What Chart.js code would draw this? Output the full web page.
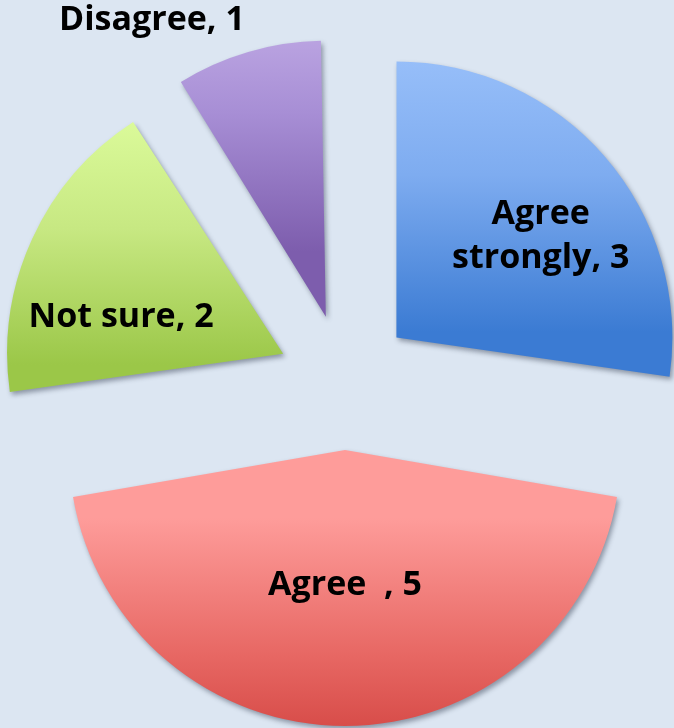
<!DOCTYPE html>
<html>
<head>
<meta charset="utf-8">
<script src="https://cdn.jsdelivr.net/npm/chart.js@4"></script>
<style>
  html, body { margin: 0; padding: 0; background: #dce6f2; }
  #wrap { width: 674px; height: 728px; }
</style>
</head>
<body>
<div id="wrap"><canvas id="pie" width="674" height="728"></canvas></div>
<script>
// survey answers, clockwise from 12 o'clock
const categories = ["Agree strongly", "Agree  ", "Not sure", "Disagree"];
const counts = [3, 5, 2, 1];

// top / middle / bottom colours of each slice gradient
const topColors = ["#a0c5fc", "#fe9c9a", "#e0ffa0", "#cab5eb"];
const midColors = ["#7eacf0", "#e76763", "#c7e882", "#a78ed5"];
const bottomColors = ["#3b7bd3", "#c93431", "#9bc748", "#7d5dad"];

const RADIUS = 276;
const EXPLODE = 68; // how far each slice is pulled out, px

// label placement: distance from slice tip along (mid angle + turn)
const labelLayout = [
  { dist: 176, turn: 6, lines: ["Agree", "strongly, 3"] },
  { dist: 135, turn: 0 },
  { dist: 166, turn: -12 },
  { dist: 344, turn: -14 },
];

// arc.draw() moves a slice by offset/4 but also grows its radius for
// slices narrower than a half turn; undo the growth so all share one radius
const sliceGeometry = {
  id: "sliceGeometry",
  beforeDatasetDraw(chart) {
    const ctx = chart.ctx;
    chart.getDatasetMeta(0).data.forEach((arc, i) => {
      const circ = arc.endAngle - arc.startAngle;
      const fix = 1 - Math.sin(Math.min(Math.PI, circ));
      arc.outerRadius = RADIUS - (arc.options.offset / 4) * fix;

      const mid = (arc.startAngle + arc.endAngle) / 2;
      const tipY = arc.y + Math.sin(mid) * EXPLODE;
      let minY = tipY, maxY = tipY;
      for (let s = 0; s <= 60; s++) {
        const a = arc.startAngle + circ * s / 60;
        const y = tipY + Math.sin(a) * RADIUS;
        minY = Math.min(minY, y);
        maxY = Math.max(maxY, y);
      }
      const g = ctx.createLinearGradient(0, minY, 0, maxY);
      g.addColorStop(0, topColors[i]);
      g.addColorStop(0.5, midColors[i]);
      g.addColorStop(1, bottomColors[i]);
      arc.options.backgroundColor = g;
    });
    ctx.save();
    ctx.shadowColor = "rgba(40, 50, 70, 0.45)";
    ctx.shadowBlur = 5;
    ctx.shadowOffsetX = 2;
    ctx.shadowOffsetY = 3;
  },
  afterDatasetDraw(chart) {
    chart.ctx.restore();
  },
};

const sliceLabels = {
  id: "sliceLabels",
  afterDatasetsDraw(chart) {
    const ctx = chart.ctx;
    ctx.save();
    ctx.fillStyle = "#000";
    ctx.font = "bold 34px 'Open Sans', sans-serif";
    ctx.textAlign = "center";
    ctx.textBaseline = "middle";
    chart.getDatasetMeta(0).data.forEach((arc, i) => {
      const mid = (arc.startAngle + arc.endAngle) / 2;
      const lay = labelLayout[i];
      const tx = arc.x + Math.cos(mid) * EXPLODE;
      const ty = arc.y + Math.sin(mid) * EXPLODE;
      const a = mid + lay.turn * Math.PI / 180;
      const x = tx + Math.cos(a) * lay.dist;
      const y = ty + Math.sin(a) * lay.dist;
      const lines = lay.lines || [categories[i] + ", " + counts[i]];
      const lh = 44;
      lines.forEach((t, j) => {
        ctx.fillText(t, x, y + (j - (lines.length - 1) / 2) * lh);
      });
    });
    ctx.restore();
  },
};

new Chart(document.getElementById("pie"), {
  type: "pie",
  data: {
    labels: categories,
    datasets: [{
      data: counts,
      backgroundColor: topColors,
      borderWidth: 0,
      offset: EXPLODE * 4,
      clip: false,
    }],
  },
  options: {
    responsive: false,
    animation: false,
    radius: RADIUS,
    layout: { padding: { left: 16, top: 36, right: 0, bottom: 0 } },
    plugins: {
      legend: { display: false },
      tooltip: { enabled: false },
    },
  },
  plugins: [sliceGeometry, sliceLabels],
});
</script>
</body>
</html>
